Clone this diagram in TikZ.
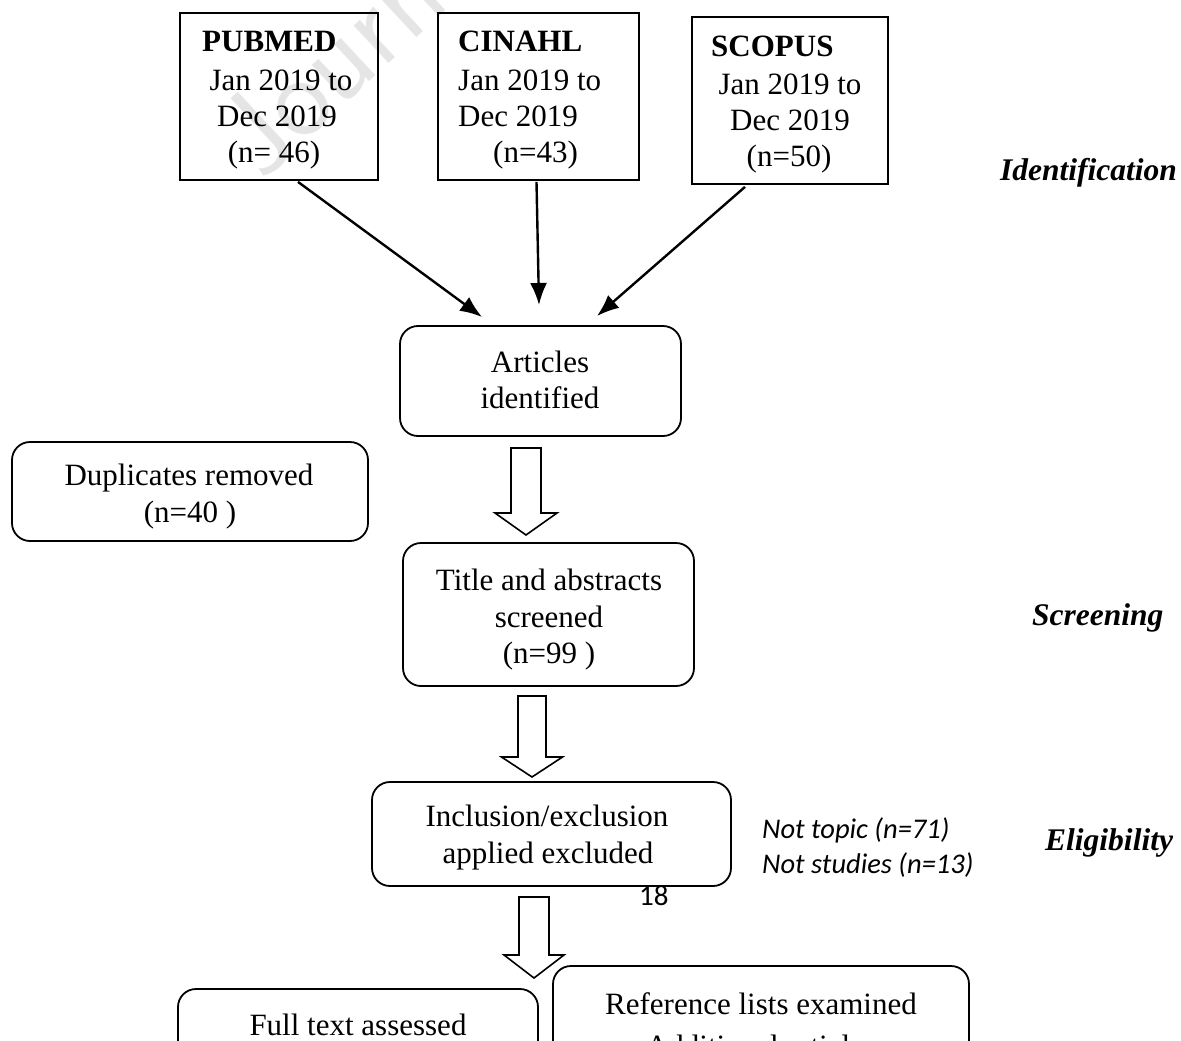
\documentclass[tikz,border=0pt]{standalone}
\usepackage{fontspec}
\setmainfont{Liberation Serif}
\newfontfamily\calib{Carlito}
\usetikzlibrary{arrows.meta,calc}
\tikzset{
  sqbox/.style={draw, line width=1.8pt, inner sep=0pt},
  rbox/.style={draw, line width=1.8pt, rounded corners=18pt, inner sep=0pt},
  txt/.style={anchor=base, inner sep=0pt, font=\fontsize{31}{36}\selectfont},
  txtl/.style={anchor=base west, inner sep=0pt, font=\fontsize{31}{36}\selectfont},
  boldl/.style={anchor=base west, inner sep=0pt, font=\fontsize{31}{36}\selectfont\bfseries},
  stage/.style={anchor=base west, inner sep=0pt, font=\fontsize{31.5}{36}\selectfont\bfseries\itshape},
  note/.style={anchor=base west, inner sep=0pt, font=\fontsize{28.5}{34}\selectfont\calib\itshape},
  feed/.style={line width=2.4pt, -{Latex[length=22pt,width=17pt]}},
  blockar/.style={draw, line width=1.6pt, fill=white, line join=miter}
}
\newcommand{\blockarrow}[6]{% cx, top, headbase, tip, half shaft, half head
  \draw[blockar] (#1-#5,#2) -- (#1+#5,#2) -- (#1+#5,#3) -- (#1+#6,#3) -- (#1,#4)
    -- (#1-#6,#3) -- (#1-#5,#3) -- cycle;}
\begin{document}
\begin{tikzpicture}[x=1pt,y=-1pt]
\useasboundingbox (0,0) rectangle (1181,1041);
\fill[white] (0,0) rectangle (1181,1041);
\clip (0,0) rectangle (1181,1041);

% watermark
\node[anchor=base west, inner sep=0pt, rotate=43, text=black!10,
      font=\fontsize{118}{118}\selectfont\sffamily] (wm) at (262,182) {Journ};

% source boxes
\node[sqbox, minimum width=198pt, minimum height=167pt] (pub) at (279,96.5) {};
\node[boldl] (pubt) at (202,52) {PUBMED};
\node[txt] (pub1) at (281,90) {Jan 2019 to};
\node[txt] (pub2) at (277,126) {Dec 2019};
\node[txt] (pub3) at (274,162) {(n= 46)};

\node[sqbox, minimum width=201pt, minimum height=167pt] (cin) at (538.5,96.5) {};
\node[boldl] (cint) at (458,52) {CINAHL};
\node[txtl] (cin1) at (458,90) {Jan 2019 to};
\node[txtl] (cin2) at (458,126) {Dec 2019};
\node[txtl] (cin3) at (493,162) {(n=43)};

\node[sqbox, minimum width=196pt, minimum height=167pt] (sco) at (790,100.5) {};
\node[boldl] (scot) at (711,57) {SCOPUS};
\node[txt] (sco1) at (790,94) {Jan 2019 to};
\node[txt] (sco2) at (790,130) {Dec 2019};
\node[txt] (sco3) at (789,166) {(n=50)};

% stage labels
\node[stage] (sid) at (1000,180) {Identification};
\node[stage] (sscr) at (1032,625) {Screening};
\node[stage] (seli) at (1045,850) {Eligibility};

% articles identified
\node[rbox, minimum width=281pt, minimum height=110pt] (art) at (540.5,381) {};
\node[txt] (art1) at (540,372) {Articles};
\node[txt] (art2) at (540,408) {identified};

\coordinate (e1) at (482,317);
\coordinate (e2) at (539,305);
\coordinate (e3) at (597,316);
\draw[feed] ($(pub.south)+(19,1)$) -- (e1);
\draw[feed] ($(cin.south)+(-2,1)$) -- (e2);
\draw[feed] ($(sco.south)+(-45,2)$) -- (e3);

% duplicates
\node[rbox, minimum width=356pt, minimum height=99pt] (dup) at (190,491.5) {};
\node[txt] (dup1) at (189,485) {Duplicates removed};
\node[txt] (dup2) at (190,522) {(n=40 )};

% block arrow 1
\blockarrow{526}{448}{513}{535}{15}{31}

% title and abstracts
\node[rbox, minimum width=291pt, minimum height=143pt] (tit) at (548.5,614.5) {};
\node[txt] (tit1) at (549,590) {Title and abstracts};
\node[txt] (tit2) at (549,627) {screened};
\node[txt] (tit3) at (549,663) {(n=99 )};

% block arrow 2
\blockarrow{532}{696}{757}{777}{14}{30.5}

% page number (partly under the box border)
\node[anchor=base west, inner sep=0pt, font=\fontsize{29}{32}\selectfont\calib] (pg) at (639,905) {18};

% inclusion
\node[rbox, fill=white, minimum width=359pt, minimum height=104pt] (inc) at (551.5,834) {};
\node[txt] (inc1) at (547,826) {Inclusion/exclusion};
\node[txt] (inc2) at (548,863) {applied excluded};
\node[note] (n1) at (762,838) {Not topic (n=71)};
\node[note] (n2) at (762,873) {Not studies (n=13)};

% block arrow 3
\blockarrow{534}{897}{955}{978}{15}{30}

% bottom boxes
\node[rbox, minimum width=360pt, minimum height=130pt] (full) at (358,1054) {};
\node[txt] (full1) at (358,1035) {Full text assessed};
\node[rbox, minimum width=416pt, minimum height=150pt] (ref) at (761,1041) {};
\node[txt] (ref1) at (761,1014) {Reference lists examined};
\node[txt] (ref2) at (761,1056) {Additional articles};
\end{tikzpicture}
\end{document}
